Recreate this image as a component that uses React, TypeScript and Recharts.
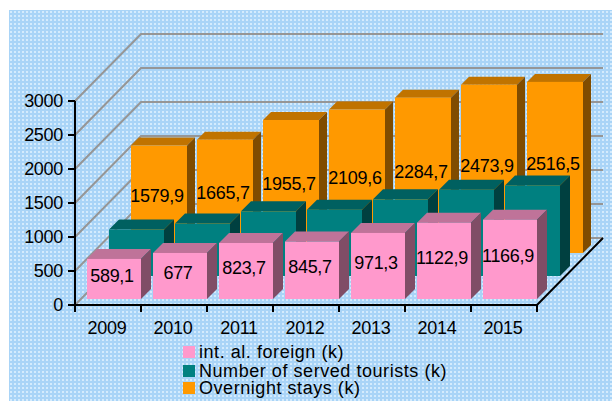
import { Bar, BarChart, CartesianGrid, LabelList, Legend, XAxis, YAxis } from "recharts";

const years = ["2009", "2010", "2011", "2012", "2013", "2014", "2015"];
const foreign = [589.1, 677, 823.7, 845.7, 971.3, 1122.9, 1166.9];
// not printed in the picture, read from the height of the teal boxes
const served = [683, 771, 951, 976, 1127, 1269, 1332];
const overnight = [1579.9, 1665.7, 1955.7, 2109.6, 2284.7, 2473.9, 2516.5];
const yTicks = [0, 500, 1000, 1500, 2000, 2500, 3000];

const data = years.map((year, i) => ({
  year,
  foreign: foreign[i],
  served: served[i],
  overnight: overnight[i],
}));

const legendItems = [
  { label: "int. al. foreign (k)", color: "#FF99CC" },
  { label: "Number of served tourists (k)", color: "#008080" },
  { label: "Overnight stays (k)", color: "#FF9900" },
];
const legendRowHeights = [20, 17, 18];

const FONT = "'Liberation Sans', Arial, sans-serif";
const FONT_SIZE = 18;
const BAND = 66;
const WALL_X = 66;
const WALL_Y = 67;

// the three rows sit at different depths on the floor of the 3d box
const makeBox =
  (dx: number, dy: number, extra: number, depth: number, face: string, top: string, side: string) =>
  (props: any) => {
    const x = props.x + dx;
    const y = props.y + dy;
    const w = props.width + extra;
    const h = props.height;
    return (
      <g>
        <polygon points={`${x},${y} ${x + depth},${y - depth} ${x + w + depth},${y - depth} ${x + w},${y}`} fill={top} />
        <polygon points={`${x + w},${y} ${x + w + depth},${y - depth} ${x + w + depth},${y + h - depth} ${x + w},${y + h}`} fill={side} />
        <rect x={x} y={y} width={w} height={h} fill={face} />
      </g>
    );
  };

const makeLabel = (dx: number, dy: number, extra: number) => (props: any) => {
  const { x, y, width, height, value } = props;
  return (
    <text
      x={x + dx + (width + extra) / 2 - 2}
      y={y + dy + height / 2 - 3}
      textAnchor="middle"
      dominantBaseline="central"
      fontSize={FONT_SIZE}
      letterSpacing={-0.3}
      fontFamily={FONT}
      fill="#000"
    >
      {String(value).replace(".", ",")}
    </text>
  );
};

// wall and floor lines: diagonal on the side wall, then along the back
const gridLine = (props: any) => {
  const { x1, x2, y1 } = props;
  return (
    <g key={props.key}>
      <polyline
        points={`${x1},${y1} ${x1 + WALL_X},${y1 - WALL_Y} ${x2 + WALL_X},${y1 - WALL_Y}`}
        fill="none"
        stroke="#969696"
        strokeWidth={2}
      />
      {y1 > 300 && <line x1={x2} y1={y1} x2={x2 + WALL_X} y2={y1 - WALL_Y} stroke="#000" strokeWidth={2} />}
    </g>
  );
};

const YearTick = (props: any) => {
  const { x, y, payload, index } = props;
  const axisY = y - 8;
  return (
    <g>
      <line x1={x - BAND / 2} y1={axisY} x2={x - BAND / 2} y2={axisY + 7} stroke="#000" strokeWidth={2} />
      {index === years.length - 1 && (
        <line x1={x + BAND / 2} y1={axisY} x2={x + BAND / 2} y2={axisY + 7} stroke="#000" strokeWidth={2} />
      )}
      <text x={x - 1} y={axisY + 29} textAnchor="middle" fontSize={FONT_SIZE} letterSpacing={-0.3} fontFamily={FONT} fill="#000">
        {payload.value}
      </text>
    </g>
  );
};

const LegendBox = () => (
  <div style={{ fontFamily: FONT, fontSize: FONT_SIZE, lineHeight: "16px", color: "#000" }}>
    {legendItems.map((item, i) => (
      <div
        key={item.label}
        style={{ display: "flex", alignItems: "center", height: legendRowHeights[i], whiteSpace: "nowrap" }}
      >
        <span style={{ width: 12, height: 12, background: item.color, marginRight: 4 }} />
        <span style={{ letterSpacing: 0.55 }}>{item.label}</span>
      </div>
    ))}
  </div>
);

export default function App() {
  return (
    <div style={{ position: "absolute", left: 0, top: 0, width: 616, height: 401, background: "#fff" }}>
      <div
        style={{
          position: "absolute",
          left: 9,
          top: 10,
          width: 603,
          height: 391,
          backgroundColor: "#A9D4F7",
          backgroundImage: "radial-gradient(circle, #D4EBFD 1.1px, transparent 1.5px)",
          backgroundSize: "4px 4px",
        }}
      />
      <BarChart
        width={616}
        height={401}
        data={data}
        margin={{ top: 101, right: 79, bottom: 66, left: 0 }}
        barSize={54}
        barGap={-54}
        barCategoryGap={12}
        style={{ position: "absolute", left: 0, top: 0 }}
      >
        <CartesianGrid vertical={false} horizontal={gridLine} />
        <XAxis
          dataKey="year"
          height={30}
          axisLine={{ stroke: "#000", strokeWidth: 2 }}
          tickLine={false}
          tick={<YearTick />}
          interval={0}
        />
        <YAxis
          width={75}
          domain={[0, 3000]}
          ticks={yTicks}
          axisLine={{ stroke: "#000", strokeWidth: 2 }}
          tickLine={{ stroke: "#000", strokeWidth: 2 }}
          tickSize={7}
          tick={{ fontSize: FONT_SIZE, letterSpacing: -0.3, fontFamily: FONT, fill: "#000" }}
          tickMargin={5}
        />
        <Legend
          layout="horizontal"
          verticalAlign="middle"
          content={<LegendBox />}
          wrapperStyle={{ left: 183, top: 342, width: 300, height: 56 }}
        />
        <Bar
          dataKey="overnight"
          isAnimationActive={false}
          shape={makeBox(50, -52, 2, 8, "#FF9900", "#C07300", "#804C00")}
        >
          <LabelList dataKey="overnight" content={makeLabel(50, -52, 2)} />
        </Bar>
        <Bar
          dataKey="served"
          isAnimationActive={false}
          shape={makeBox(28, -29, 1, 10, "#008080", "#006060", "#004040")}
        />
        <Bar
          dataKey="foreign"
          isAnimationActive={false}
          shape={makeBox(6, -6, 0, 10, "#FF99CC", "#BF7399", "#804D66")}
        >
          <LabelList dataKey="foreign" content={makeLabel(6, -6, 0)} />
        </Bar>
      </BarChart>
    </div>
  );
}
